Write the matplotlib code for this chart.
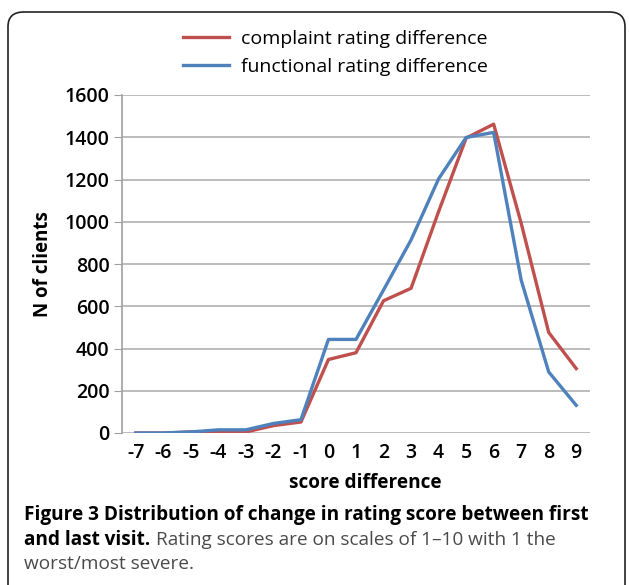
import matplotlib
matplotlib.use("Agg")
import matplotlib.pyplot as plt
from matplotlib.patches import FancyBboxPatch

# score difference categories and client counts
score_diff = list(range(-7, 10))
complaint = [0, 0, 5, 5, 5, 35, 52, 348, 380, 626, 685, 1048, 1396, 1462, 993, 476, 305]
functional = [0, 0, 5, 15, 15, 45, 63, 443, 443, 677, 914, 1203, 1399, 1423, 724, 289, 131]

plt.rcParams['font.family'] = ['Open Sans', 'DejaVu Sans']

W, H = 629, 585
fig = plt.figure(figsize=(W / 100, H / 100), dpi=100)

# rounded frame around the whole figure
frame = FancyBboxPatch((8 / W, -30 / H), 617 / W, (H - 12 + 30) / H,
                       boxstyle="round,pad=0,rounding_size=0.025",
                       transform=fig.transFigure, fill=False,
                       edgecolor='#222222', linewidth=1.2, clip_on=False)
fig.patches.append(frame)

ax = fig.add_axes([122 / W, 1 - 433 / H, (590 - 122) / W, (433 - 95) / H])
red, = ax.plot(score_diff, complaint, color='#C0504D', linewidth=2.4)
blue, = ax.plot(score_diff, functional, color='#4F81BD', linewidth=2.4)

ax.set_xlim(-7.5, 9.5)
ax.set_ylim(0, 1600)
ax.set_yticks(range(0, 1601, 200))
ax.set_xticks(score_diff)
ax.set_xticklabels([str(s) for s in score_diff])
ax.grid(axis='y', color='#b0b0b0', linewidth=1.2)
ax.set_axisbelow(True)
for side in ['top', 'right', 'bottom']:
    ax.spines[side].set_visible(False)
ax.spines['left'].set_color('#a0a0a0')
ax.spines['left'].set_linewidth(1.2)
ax.tick_params(axis='y', length=6, color='#a0a0a0', labelsize=14, pad=3)
ax.tick_params(axis='x', length=0, labelsize=14, pad=7)
for lab in ax.get_xticklabels() + ax.get_yticklabels():
    lab.set_fontweight('semibold')

ax.set_xlabel('score difference', fontsize=13.7, fontweight='bold')
ax.xaxis.set_label_coords(0.519, -0.118)
ax.set_ylabel('N of clients', fontsize=13.5, fontweight='bold', labelpad=8)

fig.legend([red, blue], ['complaint rating difference', 'functional rating difference'],
           loc='upper left', bbox_to_anchor=(165 / W, 1 - 12 / H), frameon=False,
           fontsize=14, handlelength=2.4, handletextpad=0.6, labelspacing=0.55)

# caption: bold lead-in followed by regular text
cap_size = 13.7
fig.text(24 / W, 1 - 515 / H,
         'Figure 3 Distribution of change in rating score between first',
         fontsize=cap_size, fontweight='bold', va='center', ha='left')
bold2 = fig.text(24 / W, 1 - 540 / H, 'and last visit.', fontsize=cap_size,
                 fontweight='bold', va='center', ha='left')
renderer = fig.canvas.get_renderer()
bb = bold2.get_window_extent(renderer)
fig.text((bb.x1 + 6) / W, 1 - 540 / H, 'Rating scores are on scales of 1\u201310 with 1 the',
         fontsize=cap_size, color='#4a4a4a', va='center', ha='left')
fig.text(24 / W, 1 - 564 / H, 'worst/most severe.', fontsize=cap_size, color='#4a4a4a',
         va='center', ha='left')

fig.savefig('out.png', dpi=100)
